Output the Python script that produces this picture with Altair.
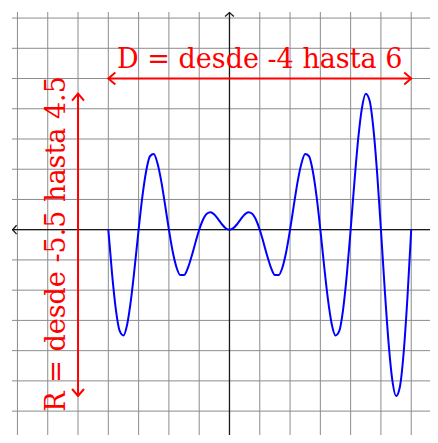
import altair as alt
import pandas as pd

# ---- data ----
X_DOMAIN = [-7.18, 6.62]
Y_DOMAIN = [-6.79, 7.2]
GRID_X = [-7, -6, -5, -4, -3, -2, -1, 0, 1, 2, 3, 4, 5, 6]
GRID_Y = [-6, -5, -4, -3, -2, -1, 0, 1, 2, 3, 4, 5, 6, 7]

CURVE_X = [-4, -3.875, -3.75, -3.625, -3.5, -3.375, -3.25, -3.125,
           -3, -2.875, -2.75, -2.625, -2.5, -2.375, -2.25, -2.125,
           -2, -1.875, -1.75, -1.625, -1.5, -1.375, -1.25, -1.125,
           -1, -0.875, -0.75, -0.625, -0.5, -0.375, -0.25, -0.125,
           0, 0.125, 0.25, 0.375, 0.5, 0.625, 0.75, 0.875,
           1, 1.125, 1.25, 1.375, 1.5, 1.625, 1.75, 1.875,
           2, 2.125, 2.25, 2.375, 2.5, 2.625, 2.75, 2.875,
           3, 3.125, 3.25, 3.375, 3.5, 3.625, 3.75, 3.875,
           4, 4.125, 4.25, 4.375, 4.5, 4.625, 4.75, 4.875,
           5, 5.125, 5.25, 5.375, 5.5, 5.625, 5.75, 5.875, 6]
CURVE_Y = [0, -1.48, -2.65, -3.35, -3.5, -3.12, -2.30, -1.20,
           0, 1.10, 1.94, 2.43, 2.5, 2.19, 1.59, 0.81,
           0, -0.72, -1.24, -1.50, -1.5, -1.27, -0.88, -0.43,
           0, 0.33, 0.53, 0.58, 0.5, 0.35, 0.18, 0.05,
           0, 0.05, 0.18, 0.35, 0.5, 0.58, 0.53, 0.33,
           0, -0.43, -0.88, -1.27, -1.5, -1.50, -1.24, -0.72,
           0, 0.81, 1.59, 2.19, 2.5, 2.43, 1.94, 1.10,
           0, -1.20, -2.30, -3.12, -3.5, -3.35, -2.65, -1.48,
           0, 1.58, 3.01, 4.04, 4.5, 4.27, 3.36, 1.87,
           0, -1.96, -3.71, -4.97, -5.5, -5.20, -4.07, -2.25, 0]

D_RANGE = [-4, 6]
D_LEVEL = 5
R_RANGE = [-5.5, 4.5]
R_LEVEL = -5
D_LABEL = "D = desde -4 hasta 6"
R_LABEL = "R = desde -5.5 hasta 4.5"

RED = "#ff0000"
FONT = "DejaVu Serif"
FSIZE = 27

xs = alt.Scale(domain=X_DOMAIN, nice=False, zero=False)
ys = alt.Scale(domain=Y_DOMAIN, nice=False, zero=False)

CHEVRON = "M-1,-0.85L0,0L-1,0.85"

grid_v = alt.Chart(pd.DataFrame({"x": GRID_X})).mark_rule(
    color="#8c8c8c", strokeWidth=1
).encode(x=alt.X("x:Q", scale=xs, axis=None))

grid_h = alt.Chart(pd.DataFrame({"y": GRID_Y})).mark_rule(
    color="#8c8c8c", strokeWidth=1
).encode(y=alt.Y("y:Q", scale=ys, axis=None))

axis_h = alt.Chart(pd.DataFrame({"x": [X_DOMAIN[0]], "x2": [X_DOMAIN[1]], "y": [0]})).mark_rule(
    color="#1a1a1a", strokeWidth=1.3
).encode(x=alt.X("x:Q", scale=xs, axis=None), x2="x2:Q", y=alt.Y("y:Q", scale=ys, axis=None))

axis_v = alt.Chart(pd.DataFrame({"x": [0], "y": [Y_DOMAIN[0]], "y2": [Y_DOMAIN[1]]})).mark_rule(
    color="#1a1a1a", strokeWidth=1.3
).encode(x=alt.X("x:Q", scale=xs, axis=None), y=alt.Y("y:Q", scale=ys, axis=None), y2="y2:Q")

axis_heads = alt.Chart(pd.DataFrame({
    "x": [X_DOMAIN[0] + 0.02, 0],
    "y": [0, Y_DOMAIN[1] - 0.02],
    "a": [180, 270],
})).mark_point(shape="M-1,-1.1L0,0L-1,1.1", filled=False, size=64, strokeWidth=1.3,
               color="#1a1a1a", opacity=1).encode(
    x=alt.X("x:Q", scale=xs, axis=None), y=alt.Y("y:Q", scale=ys, axis=None),
    angle=alt.Angle("a:Q", scale=None))

curve = alt.Chart(pd.DataFrame({"x": CURVE_X, "y": CURVE_Y})).mark_line(
    color="#0000ff", strokeWidth=2, interpolate="monotone"
).encode(x=alt.X("x:Q", scale=xs, axis=None), y=alt.Y("y:Q", scale=ys, axis=None), order="x:Q")

d_line = alt.Chart(pd.DataFrame({"x": [D_RANGE[0]], "x2": [D_RANGE[1]], "y": [D_LEVEL]})).mark_rule(
    color=RED, strokeWidth=2
).encode(x=alt.X("x:Q", scale=xs, axis=None), x2="x2:Q", y=alt.Y("y:Q", scale=ys, axis=None))

r_line = alt.Chart(pd.DataFrame({"x": [R_LEVEL], "y": [R_RANGE[0]], "y2": [R_RANGE[1]]})).mark_rule(
    color=RED, strokeWidth=2
).encode(x=alt.X("x:Q", scale=xs, axis=None), y=alt.Y("y:Q", scale=ys, axis=None), y2="y2:Q")

red_heads = alt.Chart(pd.DataFrame({
    "x": [D_RANGE[0], D_RANGE[1], R_LEVEL, R_LEVEL],
    "y": [D_LEVEL, D_LEVEL, R_RANGE[1], R_RANGE[0]],
    "a": [180, 0, 270, 90],
})).mark_point(shape=CHEVRON, filled=False, size=196, strokeWidth=2, color=RED, opacity=1).encode(
    x=alt.X("x:Q", scale=xs, axis=None), y=alt.Y("y:Q", scale=ys, axis=None),
    angle=alt.Angle("a:Q", scale=None))

d_text = alt.Chart(pd.DataFrame({"x": [1], "y": [5.36], "t": [D_LABEL]})).mark_text(
    font=FONT, fontSize=FSIZE, color=RED, align="center", baseline="alphabetic"
).encode(x=alt.X("x:Q", scale=xs, axis=None), y=alt.Y("y:Q", scale=ys, axis=None), text="t:N")

r_text = alt.Chart(pd.DataFrame({"x": [-5.43], "y": [-0.47], "t": [R_LABEL]})).mark_text(
    font=FONT, fontSize=FSIZE, color=RED, align="center", baseline="alphabetic", angle=270
).encode(x=alt.X("x:Q", scale=xs, axis=None), y=alt.Y("y:Q", scale=ys, axis=None), text="t:N")

chart = alt.layer(
    grid_v, grid_h, axis_h, axis_v, axis_heads, curve, d_line, r_line, red_heads, d_text, r_text
).properties(
    width=418, height=423, autosize="none",
    padding={"left": 4, "top": 4, "right": 0, "bottom": 0},
    background="white",
).configure_view(stroke=None)

chart.save("out.html", embed_options={"renderer": "svg", "actions": False})
